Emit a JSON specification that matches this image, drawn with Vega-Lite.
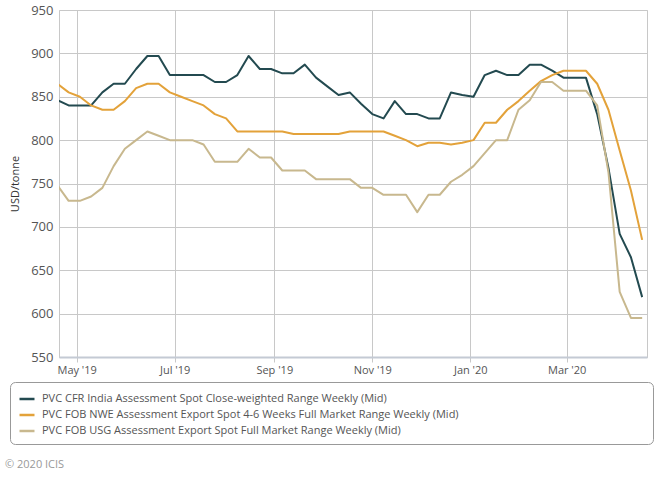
{
  "$schema": "https://vega.github.io/schema/vega-lite/v6.json",
  "width": 588,
  "height": 347,
  "autosize": {"type": "none"},
  "padding": {"left": 59, "top": 10, "right": 21, "bottom": 121},
  "background": "white",
  "config": {
    "font": "Open Sans",
    "view": {"stroke": "#c8c8c8", "strokeWidth": 1}
  },
  "title": {
    "text": "© 2020 ICIS",
    "orient": "bottom",
    "anchor": "start",
    "frame": "group",
    "offset": 14,
    "dx": -54,
    "fontSize": 11,
    "fontWeight": "normal",
    "color": "#999999",
    "font": "Open Sans"
  },
  "data": {
    "values": [
      {"date": "2019-04-19", "India": 846, "NWE": 865, "USG": 748},
      {"date": "2019-04-26", "India": 840, "NWE": 855, "USG": 730},
      {"date": "2019-05-03", "India": 840, "NWE": 850, "USG": 730},
      {"date": "2019-05-10", "India": 840, "NWE": 840, "USG": 735},
      {"date": "2019-05-17", "India": 855, "NWE": 835, "USG": 745},
      {"date": "2019-05-24", "India": 865, "NWE": 835, "USG": 770},
      {"date": "2019-05-31", "India": 865, "NWE": 845, "USG": 790},
      {"date": "2019-06-07", "India": 882, "NWE": 860, "USG": 800},
      {"date": "2019-06-14", "India": 897, "NWE": 865, "USG": 810},
      {"date": "2019-06-21", "India": 897, "NWE": 865, "USG": 805},
      {"date": "2019-06-28", "India": 875, "NWE": 855, "USG": 800},
      {"date": "2019-07-05", "India": 875, "NWE": 850, "USG": 800},
      {"date": "2019-07-12", "India": 875, "NWE": 845, "USG": 800},
      {"date": "2019-07-19", "India": 875, "NWE": 840, "USG": 795},
      {"date": "2019-07-26", "India": 867, "NWE": 830, "USG": 775},
      {"date": "2019-08-02", "India": 867, "NWE": 825, "USG": 775},
      {"date": "2019-08-09", "India": 875, "NWE": 810, "USG": 775},
      {"date": "2019-08-16", "India": 897, "NWE": 810, "USG": 790},
      {"date": "2019-08-23", "India": 882, "NWE": 810, "USG": 780},
      {"date": "2019-08-30", "India": 882, "NWE": 810, "USG": 780},
      {"date": "2019-09-06", "India": 877, "NWE": 810, "USG": 765},
      {"date": "2019-09-13", "India": 877, "NWE": 807, "USG": 765},
      {"date": "2019-09-20", "India": 887, "NWE": 807, "USG": 765},
      {"date": "2019-09-27", "India": 872, "NWE": 807, "USG": 755},
      {"date": "2019-10-04", "India": 862, "NWE": 807, "USG": 755},
      {"date": "2019-10-11", "India": 852, "NWE": 807, "USG": 755},
      {"date": "2019-10-18", "India": 855, "NWE": 810, "USG": 755},
      {"date": "2019-10-25", "India": 842, "NWE": 810, "USG": 745},
      {"date": "2019-11-01", "India": 830, "NWE": 810, "USG": 745},
      {"date": "2019-11-08", "India": 825, "NWE": 810, "USG": 737},
      {"date": "2019-11-15", "India": 845, "NWE": 805, "USG": 737},
      {"date": "2019-11-22", "India": 830, "NWE": 800, "USG": 737},
      {"date": "2019-11-29", "India": 830, "NWE": 793, "USG": 717},
      {"date": "2019-12-06", "India": 825, "NWE": 797, "USG": 737},
      {"date": "2019-12-13", "India": 825, "NWE": 797, "USG": 737},
      {"date": "2019-12-20", "India": 855, "NWE": 795, "USG": 752},
      {"date": "2019-12-27", "India": 852, "NWE": 797, "USG": 760},
      {"date": "2020-01-03", "India": 850, "NWE": 800, "USG": 770},
      {"date": "2020-01-10", "India": 875, "NWE": 820, "USG": 785},
      {"date": "2020-01-17", "India": 880, "NWE": 820, "USG": 800},
      {"date": "2020-01-24", "India": 875, "NWE": 835, "USG": 800},
      {"date": "2020-01-31", "India": 875, "NWE": 845, "USG": 835},
      {"date": "2020-02-07", "India": 887, "NWE": 857, "USG": 846},
      {"date": "2020-02-14", "India": 887, "NWE": 868, "USG": 867},
      {"date": "2020-02-21", "India": 880, "NWE": 875, "USG": 867},
      {"date": "2020-02-28", "India": 872, "NWE": 880, "USG": 857},
      {"date": "2020-03-06", "India": 872, "NWE": 880, "USG": 857},
      {"date": "2020-03-13", "India": 872, "NWE": 880, "USG": 857},
      {"date": "2020-03-20", "India": 830, "NWE": 865, "USG": 840},
      {"date": "2020-03-27", "India": 768, "NWE": 835, "USG": 763},
      {"date": "2020-04-03", "India": 692, "NWE": 788, "USG": 625},
      {"date": "2020-04-10", "India": 665, "NWE": 742, "USG": 595},
      {"date": "2020-04-17", "India": 619, "NWE": 685, "USG": 595}
    ]
  },
  "transform": [
    {"fold": ["India", "NWE", "USG"], "as": ["series", "value"]}
  ],
  "mark": {"type": "line", "strokeWidth": 2, "clip": true, "strokeJoin": "round"},
  "encoding": {
    "x": {
      "field": "date",
      "type": "temporal",
      "scale": {
        "type": "utc",
        "domain": [
          {"year": 2019, "month": 4, "date": 20, "utc": true},
          {"year": 2020, "month": 4, "date": 20, "utc": true}
        ],
        "nice": false
      },
      "axis": {
        "title": null,
        "format": "%b '%y",
        "tickCount": {"interval": "month", "step": 2},
        "grid": true,
        "gridColor": "#c8c8c8",
        "gridWidth": 1,
        "ticks": true,
        "tickSize": 5,
        "tickColor": "#c8c8c8",
        "domain": true,
        "domainColor": "#c4cad4",
        "domainWidth": 2,
        "labelFont": "Open Sans",
        "labelFontSize": 11,
        "labelColor": "#555555",
        "labelPadding": 2,
        "labelFlush": false,
        "labelOverlap": false
      }
    },
    "y": {
      "field": "value",
      "type": "quantitative",
      "scale": {"domain": [550, 950], "nice": false, "zero": false},
      "axis": {
        "title": "USD/tonne",
        "titleFont": "Open Sans",
        "titleFontSize": 11,
        "titleFontWeight": "normal",
        "titleColor": "#333333",
        "titlePadding": 10,
        "values": [550, 600, 650, 700, 750, 800, 850, 900, 950],
        "grid": true,
        "gridColor": "#c8c8c8",
        "gridWidth": 1,
        "ticks": false,
        "domain": false,
        "labelFont": "Open Sans",
        "labelFontSize": 13,
        "labelColor": "#555555",
        "labelPadding": 6
      }
    },
    "color": {
      "field": "series",
      "type": "nominal",
      "scale": {
        "domain": ["India", "NWE", "USG"],
        "range": ["#234a50", "#e3a23a", "#c8b88e"]
      },
      "legend": {
        "title": null,
        "orient": "none",
        "legendX": -49,
        "legendY": 372,
        "direction": "vertical",
        "symbolType": "stroke",
        "symbolSize": 225,
        "symbolStrokeWidth": 2.5,
        "labelFont": "Open Sans",
        "labelFontSize": 11,
        "labelColor": "#555555",
        "labelLimit": 800,
        "labelOffset": 6,
        "rowPadding": 2,
        "padding": 8,
        "strokeColor": "#999999",
        "cornerRadius": 5,
        "fillColor": "white",
        "labelExpr": "datum.label == 'India' ? 'PVC CFR India Assessment Spot Close-weighted Range Weekly (Mid)' : datum.label == 'NWE' ? pad('PVC FOB NWE Assessment Export Spot 4-6 Weeks Full Market Range Weekly (Mid)', 140, '\u00a0') + '\u200b' : 'PVC FOB USG Assessment Export Spot Full Market Range Weekly (Mid)'"
      }
    }
  }
}
